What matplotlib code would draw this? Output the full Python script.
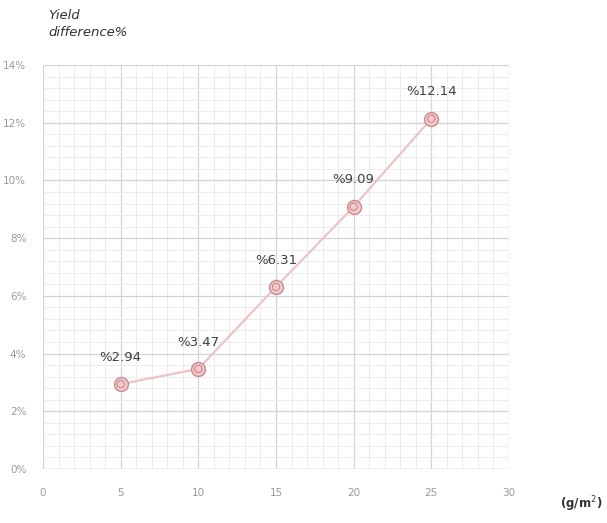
import numpy as np
import matplotlib.pyplot as plt
from matplotlib.ticker import MultipleLocator, FuncFormatter

# data
dose = [5, 10, 15, 20, 25]
diff = [2.94, 3.47, 6.31, 9.09, 12.14]
labels = ['%2.94', '%3.47', '%6.31', '%9.09', '%12.14']

fig = plt.figure(figsize=(6.07, 5.23), dpi=100)
ax = fig.add_axes([0.0708, 0.1033, 0.7678, 0.7724])

ax.plot(dose, diff, color='#eec3c6', lw=1.6, zorder=3)
ax.scatter(dose, diff, s=100, facecolor='#f3c9cb', edgecolor='#c98a8f', lw=1.0, zorder=4)
ax.scatter(dose, diff, s=28, facecolor='none', edgecolor='#c98a8f', lw=0.8, zorder=5)

for x, y, t in zip(dose, diff, labels):
    ax.text(x, y + 0.7, t, ha='center', va='bottom', fontsize=9.5, color='#404040')

ax.set_xlim(0, 30)
ax.set_ylim(0, 14)
ax.xaxis.set_major_locator(MultipleLocator(5))
ax.xaxis.set_minor_locator(MultipleLocator(1))
ax.yaxis.set_major_locator(MultipleLocator(2))
ax.yaxis.set_minor_locator(MultipleLocator(0.4))
ax.yaxis.set_major_formatter(FuncFormatter(lambda v, p: f'{v:.0f}%'))

ax.grid(which='major', color='#d3d3d3', lw=0.9)
ax.grid(which='minor', color='#ececec', lw=0.7)
ax.set_axisbelow(True)
for s in ax.spines.values():
    s.set_visible(False)
ax.axhline(0, color='#cfcfcf', lw=1.0, zorder=1)
ax.tick_params(which='both', length=0, labelsize=7.5, labelcolor='#999999')
ax.tick_params(axis='x', pad=14)
ax.tick_params(axis='y', pad=12)

fig.text(0.080, 0.955, 'Yield\ndifference%', fontsize=9.5, style='italic',
         color='#333333', ha='left', va='center', linespacing=1.4)
fig.text(0.957, 0.018, '(g/m$^2$)', fontsize=8.5, fontweight='bold',
         color='#333333', ha='center', va='bottom')

fig.savefig('out.png', dpi=100)
